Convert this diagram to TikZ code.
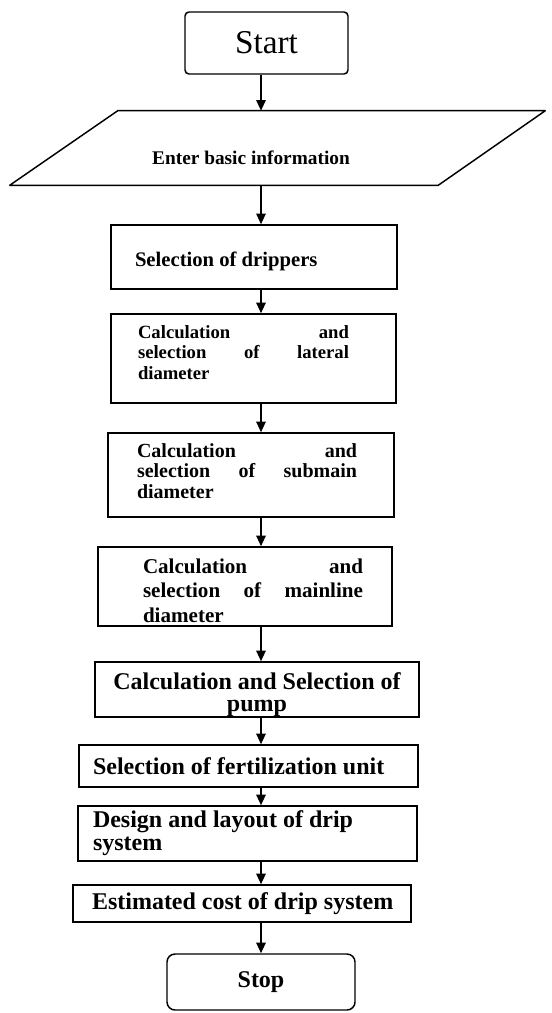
\documentclass[tikz,border=0pt]{standalone}
\usepackage{fontspec}
\setmainfont{Liberation Serif}
\usetikzlibrary{arrows.meta}
% left gap, text width, right gap, extra space below (moves text up), text
\newcommand{\stepbody}[5]{\hspace*{#1}\parbox{#2}{#5\par\vspace{#4}}\hspace*{#3}}
\begin{document}
\begin{tikzpicture}[x=0.75pt, y=-0.75pt,
  stepbox/.style={draw, line width=1.1pt, inner sep=0pt},
  termbox/.style={draw, line width=1.1pt, inner sep=0pt},
  flow/.style={line width=1.4pt, -{Triangle[length=8pt,width=7pt]}}]
\useasboundingbox (0,0) rectangle (552,1013);
% Start and input
\node[termbox, rounded corners=3pt, minimum width=122.25pt, minimum height=46.5pt,
  font=\fontsize{25}{28}\selectfont] (start) at (266.5,43) {Start};
\node[inner sep=0pt, minimum width=401.25pt, minimum height=55.5pt] (info) at (277.5,148) {};
\draw[line width=1.1pt, line join=round] ([xshift=81pt]info.north west) -- (info.north east)
  -- ([xshift=-80.25pt]info.south east) -- (info.south west) -- cycle;
\node[font=\fontsize{14.5}{16}\selectfont\bfseries] (infotext) at (251,158) {Enter basic information};
% Design steps
\node[stepbox, minimum height=48pt, font=\fontsize{15.5}{17}\selectfont\bfseries] (drip) at (254,257)
  {\stepbody{18pt}{196.5pt}{0pt}{-7.5pt}{\raggedright Selection of drippers}};
\node[stepbox, minimum height=66.75pt, font=\fontsize{14}{15.4}\selectfont\bfseries] (lat) at (253.5,358.5)
  {\stepbody{20.25pt}{158.25pt}{35.25pt}{9pt}{Calculation and\linebreak selection of lateral\linebreak diameter}};
\node[stepbox, minimum height=63pt, font=\fontsize{15}{15.5}\selectfont\bfseries] (sub) at (251,475)
  {\stepbody{21.75pt}{165pt}{27.75pt}{6pt}{Calculation and\linebreak selection of submain\linebreak diameter}};
\node[stepbox, minimum height=59.25pt, font=\fontsize{15.8}{18.5}\selectfont\bfseries] (main) at (245,586.5)
  {\stepbody{33.75pt}{165pt}{21.75pt}{-6pt}{Calculation and\linebreak selection of mainline\linebreak diameter}};
\node[stepbox, minimum height=41.25pt, font=\fontsize{18}{17}\selectfont\bfseries] (pump) at (257,689.5)
  {\stepbody{0pt}{243pt}{0pt}{-7.5pt}{\centering Calculation and Selection of\\pump}};
\node[stepbox, minimum height=31.5pt, font=\fontsize{18}{18}\selectfont\bfseries] (fert) at (248.5,766)
  {\stepbody{10.5pt}{243.75pt}{0pt}{0pt}{\raggedright Selection of fertilization unit}};
\node[stepbox, minimum height=41.25pt, font=\fontsize{18}{17.3}\selectfont\bfseries] (design) at (247.5,833.5)
  {\stepbody{11.25pt}{243pt}{0pt}{0pt}{\raggedright Design and layout of drip\\system}};
\node[stepbox, minimum height=27.75pt, font=\fontsize{18}{18}\selectfont\bfseries] (est) at (242,903.5)
  {\stepbody{14.25pt}{239.25pt}{0pt}{0pt}{\raggedright Estimated cost of drip system}};
\node[termbox, rounded corners=6pt, minimum width=141pt, minimum height=42pt,
  font=\fontsize{18}{20}\selectfont\bfseries] (stop) at (261,982) {Stop};
% Arrows
\coordinate (spine) at (261,0);
\foreach \a/\b in {start/info, info/drip, drip/lat, lat/sub, sub/main, main/pump,
  pump/fert, fert/design, design/est, est/stop}
  \draw[flow] (\a.south -| spine) -- (\b.north -| spine);
\end{tikzpicture}
\end{document}
